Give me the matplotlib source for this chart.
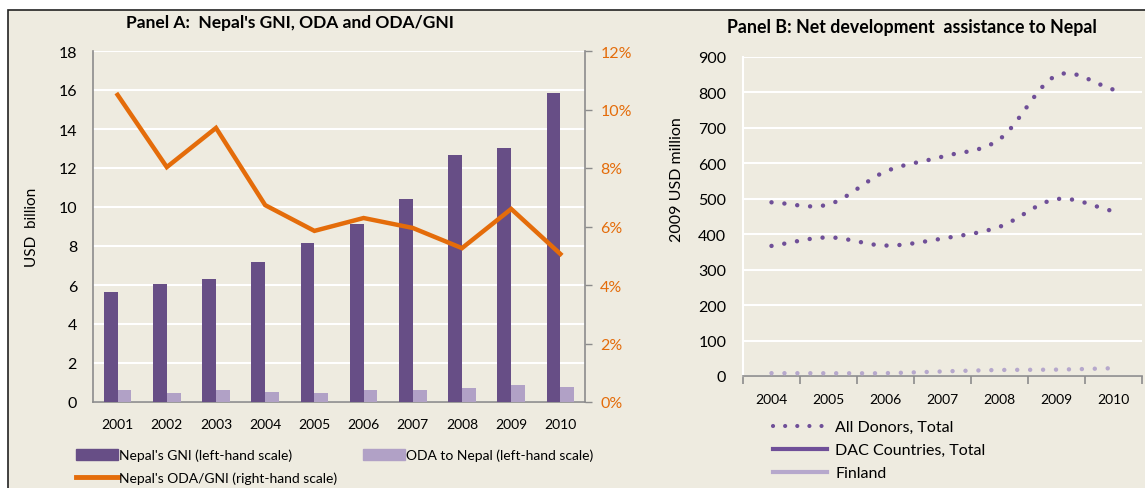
import numpy as np
import matplotlib
matplotlib.use("Agg")
import matplotlib.pyplot as plt
from matplotlib.patches import Rectangle, Patch
from matplotlib.lines import Line2D

plt.rcParams['font.family'] = ['Lato', 'DejaVu Sans']

# ---- Data: Panel A ----
years_a = ['2001', '2002', '2003', '2004', '2005', '2006', '2007', '2008', '2009', '2010']
gni = [5.65, 6.05, 6.3, 7.2, 8.15, 9.15, 10.4, 12.65, 13.05, 15.85]
oda = [0.62, 0.45, 0.62, 0.52, 0.45, 0.62, 0.62, 0.70, 0.88, 0.78]
oda_gni_pct = [10.5, 8.03, 9.37, 6.73, 5.85, 6.29, 5.95, 5.26, 6.6, 5.06]

# ---- Data: Panel B ----
years_b = ['2004', '2005', '2006', '2007', '2008', '2009', '2010']
all_donors = [490, 484, 577, 619, 668, 848, 808]
dac_total = [367, 391, 368, 388, 421, 499, 465]
finland = [8, 8, 8, 13, 17, 18, 22]

BEIGE = '#EEEBE0'
DARK_PURPLE = '#674E86'
LIGHT_PURPLE = '#B1A1C6'
ORANGE = '#E46C0A'
DOT_PURPLE = '#6F4F98'
FIN_PURPLE = '#B6A8CC'
GRAY = '#8C8C8C'

W, H = 1145, 489
fig = plt.figure(figsize=(W / 100, H / 100), dpi=100, facecolor='white')

# background frame
fig.patches.append(Rectangle((8 / W, -0.1), 1.2, 1.1 - 11 / H, transform=fig.transFigure,
                             facecolor=BEIGE, edgecolor='#222222', linewidth=1.2, zorder=-5))


def catmull_rom(xs, ys, n=40):
    xs = np.asarray(xs, float)
    ys = np.asarray(ys, float)
    px = np.concatenate([[2 * xs[0] - xs[1]], xs, [2 * xs[-1] - xs[-2]]])
    py = np.concatenate([[2 * ys[0] - ys[1]], ys, [2 * ys[-1] - ys[-2]]])
    outx, outy = [], []
    for i in range(1, len(px) - 2):
        t = np.linspace(0, 1, n, endpoint=(i == len(px) - 3))
        p0x, p1x, p2x, p3x = px[i - 1], px[i], px[i + 1], px[i + 2]
        p0y, p1y, p2y, p3y = py[i - 1], py[i], py[i + 1], py[i + 2]
        c1x, c1y = p1x + (p2x - p0x) / 6, p1y + (p2y - p0y) / 6
        c2x, c2y = p2x - (p3x - p1x) / 6, p2y - (p3y - p1y) / 6
        bx = (1 - t) ** 3 * p1x + 3 * (1 - t) ** 2 * t * c1x + 3 * (1 - t) * t ** 2 * c2x + t ** 3 * p2x
        by = (1 - t) ** 3 * p1y + 3 * (1 - t) ** 2 * t * c1y + 3 * (1 - t) * t ** 2 * c2y + t ** 3 * p2y
        outx.append(bx)
        outy.append(by)
    return np.concatenate(outx), np.concatenate(outy)


# ================= Panel A =================
axA = fig.add_axes([93 / W, 1 - 403 / H, (585 - 93) / W, (403 - 52) / H])
axA.set_facecolor(BEIGE)
x = np.arange(len(years_a))
bw = 0.28
axA.bar(x - bw / 2, gni, width=bw, color=DARK_PURPLE, zorder=3)
axA.bar(x + bw / 2, oda, width=bw, color=LIGHT_PURPLE, zorder=3)
axA.set_xlim(-0.5, len(years_a) - 0.5)
axA.set_ylim(0, 18)
axA.set_yticks(range(0, 19, 2))
axA.set_xticks(x)
axA.set_xticklabels(years_a, fontsize=10)
axA.tick_params(axis='y', length=0, labelsize=11.5, pad=11.5)
axA.tick_params(axis='x', length=0, pad=11.3)
axA.grid(axis='y', color='white', linewidth=1.5, zorder=0)
axA.set_axisbelow(True)
for s in ['top', 'right']:
    axA.spines[s].set_visible(False)
for s in ['left', 'bottom']:
    axA.spines[s].set_color(GRAY)
    axA.spines[s].set_linewidth(1.2)
axA.set_ylabel('USD  billion', fontsize=11)
axA.yaxis.set_label_coords((39 - 93) / (585 - 93), 0.5)
fig.text(290 / W, 1 - 23 / H, "Panel A:  Nepal's GNI, ODA and ODA/GNI", fontsize=12.5,
         fontweight='bold', ha='center', va='center')

axA2 = axA.twinx()
axA2.plot(x, oda_gni_pct, color=ORANGE, linewidth=3.2, zorder=5, solid_joinstyle='miter')
axA2.set_ylim(0, 12)
axA2.set_yticks(range(0, 13, 2))
axA2.set_yticklabels([f'{v}%' for v in range(0, 13, 2)])
axA2.tick_params(axis='y', colors=GRAY, labelcolor=ORANGE, labelsize=11.5, length=5, width=1, pad=6)
for s in ['top', 'left', 'bottom']:
    axA2.spines[s].set_visible(False)
axA2.spines['right'].set_color(GRAY)
axA2.spines['right'].set_linewidth(1.2)

# Panel A legend (manual placement)
legkw = dict(frameon=False, fontsize=10, handlelength=3.0, handleheight=0.8,
             handletextpad=0.1, borderpad=0, borderaxespad=0)
fig.legend([Patch(color=DARK_PURPLE)], ["Nepal's GNI (left-hand scale)"],
           loc='center left', bbox_to_anchor=(76 / W, 1 - 456 / H), **legkw)
fig.legend([Patch(color=LIGHT_PURPLE)], ["ODA to Nepal (left-hand scale)"],
           loc='center left', bbox_to_anchor=(363 / W, 1 - 456 / H), **legkw)
fig.legend([Line2D([], [], color=ORANGE, linewidth=3.5)], ["Nepal's ODA/GNI (right-hand scale)"],
           loc='center left', bbox_to_anchor=(76 / W, 1 - 479 / H), **legkw)

# ================= Panel B =================
axB = fig.add_axes([743 / W, 1 - 377 / H, (1142 - 743) / W, (377 - 58) / H])
axB.set_facecolor(BEIGE)
xb = np.arange(len(years_b))
dot_style = (0, (0.01, 2.9))
for series, col in [(all_donors, DOT_PURPLE), (dac_total, DOT_PURPLE), (finland, FIN_PURPLE)]:
    sx, sy = catmull_rom(xb, series)
    axB.plot(sx, sy, color=col, linewidth=3.2, linestyle=dot_style, dash_capstyle='round', zorder=3)
axB.set_xlim(-0.5, len(years_b) - 0.5)
axB.set_ylim(0, 900)
axB.set_yticks(range(0, 901, 100))
axB.set_xticks(np.arange(-0.5, len(years_b), 1.0))
axB.set_xticklabels([])
axB.set_xticks(xb, minor=True)
axB.set_xticklabels(years_b, minor=True, fontsize=10)
axB.tick_params(axis='x', which='major', direction='out', length=6, width=1.2, color=GRAY)
axB.tick_params(axis='x', which='minor', length=0, pad=12)
axB.tick_params(axis='y', length=0, labelsize=11.5, pad=12)
axB.grid(axis='y', color='white', linewidth=1.5, zorder=0)
axB.set_axisbelow(True)
for s in ['top', 'right']:
    axB.spines[s].set_visible(False)
axB.spines['left'].set_color('white')
axB.spines['left'].set_linewidth(1.5)
axB.spines['bottom'].set_color(GRAY)
axB.spines['bottom'].set_linewidth(1.2)
axB.set_ylabel('2009 USD million', fontsize=11.5)
axB.yaxis.set_label_coords((684 - 743) / (1142 - 743), (377 - 180) / (377 - 58))
fig.text(912 / W, 1 - 28 / H, 'Panel B: Net development  assistance to Nepal', fontsize=12.8,
         fontweight='bold', ha='center', va='center')

handlesB = [Line2D([], [], color=DOT_PURPLE, linewidth=3.0, linestyle=(0, (0.01, 2.9)), dash_capstyle='round'),
            Line2D([], [], color=DOT_PURPLE, linewidth=3.0),
            Line2D([], [], color=FIN_PURPLE, linewidth=3.0)]
fig.legend(handlesB, ['All Donors, Total', 'DAC Countries, Total', 'Finland'],
           loc='upper left', bbox_to_anchor=(773 / W, 1 - 421 / H), frameon=False,
           fontsize=11.5, handlelength=3.4, handletextpad=0.5, labelspacing=0.55,
           borderpad=0, borderaxespad=0)

fig.savefig('out.png', dpi=100, facecolor='white')
